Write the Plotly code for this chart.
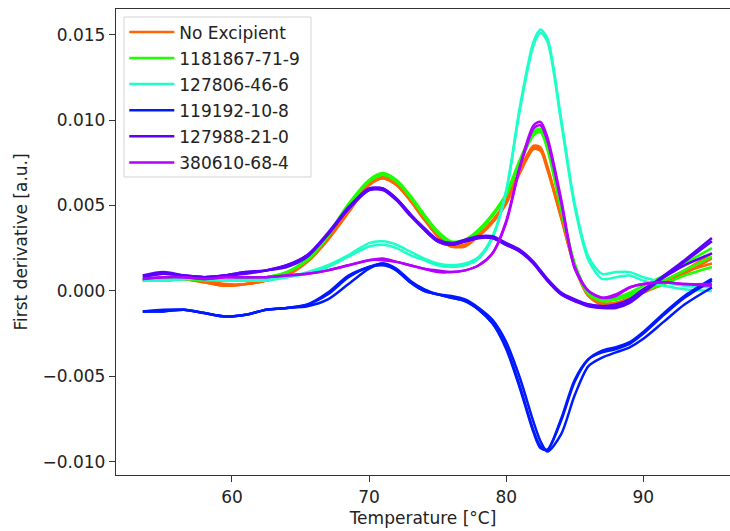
import plotly.graph_objects as go

# Temperature grid (°C)
temperature = [53.5, 55, 56.5, 58, 59.5, 61, 62.5, 64, 65.5, 67, 68.5, 70, 71, 72, 73, 74, 75, 76,
               77, 78, 79, 80, 81, 82, 82.5, 83, 84, 85, 86, 87, 88, 89, 90, 91.5, 93, 95]

# Series labels and colours
series_names = ["No Excipient", "1181867-71-9", "127806-46-6", "119192-10-8", "127988-21-0", "380610-68-4"]
series_colors = ["#ff6400", "#1eff00", "#1effc8", "#0019ff", "#5a00ff", "#b400ff"]

# First-derivative replicates per series
no_excipient = [
    [0.0006, 0.0007, 0.0007, 0.0005, 0.0003, 0.0004, 0.0006, 0.0009, 0.0017, 0.0030, 0.0046, 0.0062, 0.0066, 0.0062,
     0.0053, 0.0042, 0.0032, 0.0026, 0.0026, 0.0032, 0.0040, 0.0051, 0.0069, 0.0083, 0.0082, 0.0071, 0.0043, 0.0014,
     -0.0003, -0.0008, -0.0008, -0.0005, -0.0001, 0.0004, 0.0010, 0.0019],
    [0.0006, 0.0007, 0.0007, 0.0005, 0.0003, 0.0004, 0.0006, 0.0010, 0.0018, 0.0031, 0.0047, 0.0063, 0.0067, 0.0063,
     0.0054, 0.0043, 0.0033, 0.0027, 0.0027, 0.0033, 0.0041, 0.0053, 0.0071, 0.0085, 0.0084, 0.0073, 0.0044, 0.0015,
     -0.0002, -0.0007, -0.0007, -0.0004, 0.0000, 0.0006, 0.0012, 0.0022],
    [0.0007, 0.0007, 0.0008, 0.0006, 0.0004, 0.0004, 0.0006, 0.0010, 0.0017, 0.0030, 0.0046, 0.0062, 0.0066, 0.0062,
     0.0053, 0.0042, 0.0032, 0.0026, 0.0027, 0.0033, 0.0041, 0.0052, 0.0070, 0.0084, 0.0083, 0.0072, 0.0043, 0.0014,
     -0.0003, -0.0008, -0.0007, -0.0005, -0.0001, 0.0005, 0.0011, 0.0016],
]
cas_1181867 = [
    [0.0007, 0.0006, 0.0007, 0.0007, 0.0006, 0.0007, 0.0008, 0.0011, 0.0018, 0.0032, 0.0050, 0.0064, 0.0068, 0.0064,
     0.0055, 0.0044, 0.0034, 0.0028, 0.0029, 0.0035, 0.0044, 0.0056, 0.0075, 0.0091, 0.0093, 0.0083, 0.0048, 0.0015,
     -0.0001, -0.0005, -0.0005, -0.0003, 0.0000, 0.0004, 0.0009, 0.0014],
    [0.0007, 0.0007, 0.0007, 0.0007, 0.0006, 0.0007, 0.0008, 0.0011, 0.0019, 0.0033, 0.0051, 0.0065, 0.0069, 0.0065,
     0.0056, 0.0045, 0.0035, 0.0029, 0.0030, 0.0036, 0.0045, 0.0057, 0.0077, 0.0093, 0.0095, 0.0085, 0.0049, 0.0016,
     -0.0001, -0.0005, -0.0004, -0.0001, 0.0003, 0.0009, 0.0016, 0.0025],
    [0.0006, 0.0006, 0.0007, 0.0006, 0.0006, 0.0007, 0.0008, 0.0011, 0.0018, 0.0032, 0.0050, 0.0064, 0.0068, 0.0064,
     0.0055, 0.0044, 0.0034, 0.0028, 0.0029, 0.0035, 0.0044, 0.0056, 0.0076, 0.0092, 0.0094, 0.0084, 0.0048, 0.0015,
     -0.0002, -0.0006, -0.0005, -0.0002, 0.0001, 0.0006, 0.0012, 0.0020],
]
cas_127806 = [
    [0.0006, 0.0006, 0.0007, 0.0007, 0.0006, 0.0006, 0.0006, 0.0008, 0.0010, 0.0014, 0.0020, 0.0026, 0.0027, 0.0025,
     0.0021, 0.0018, 0.0015, 0.0014, 0.0015, 0.0019, 0.0031, 0.0058, 0.0106, 0.0144, 0.0151, 0.0146, 0.0099, 0.0049,
     0.0018, 0.0007, 0.0008, 0.0009, 0.0006, 0.0003, 0.0001, 0.0000],
    [0.0007, 0.0006, 0.0007, 0.0007, 0.0006, 0.0006, 0.0007, 0.0008, 0.0011, 0.0015, 0.0021, 0.0028, 0.0029, 0.0027,
     0.0023, 0.0019, 0.0016, 0.0015, 0.0016, 0.0020, 0.0032, 0.0059, 0.0108, 0.0146, 0.0153, 0.0148, 0.0101, 0.0051,
     0.0020, 0.0010, 0.0011, 0.0011, 0.0008, 0.0005, 0.0003, 0.0002],
]
cas_119192 = [
    [-0.0012, -0.0012, -0.0011, -0.0013, -0.0015, -0.0014, -0.0011, -0.0010, -0.0008, -0.0001, 0.0009, 0.0014,
     0.0016, 0.0012, 0.0005, 0.0000, -0.0002, -0.0004, -0.0006, -0.0011, -0.0019, -0.0033, -0.0056, -0.0082,
     -0.0091, -0.0093, -0.0076, -0.0053, -0.0040, -0.0036, -0.0034, -0.0031, -0.0025, -0.0014, -0.0004, 0.0006],
    [-0.0012, -0.0011, -0.0011, -0.0013, -0.0015, -0.0014, -0.0011, -0.0010, -0.0009, -0.0005, 0.0004, 0.0013,
     0.0016, 0.0013, 0.0006, 0.0001, -0.0002, -0.0003, -0.0005, -0.0010, -0.0017, -0.0030, -0.0051, -0.0077,
     -0.0088, -0.0094, -0.0084, -0.0061, -0.0044, -0.0039, -0.0036, -0.0033, -0.0028, -0.0018, -0.0008, 0.0002],
    [-0.0012, -0.0012, -0.0011, -0.0013, -0.0015, -0.0014, -0.0011, -0.0010, -0.0008, -0.0002, 0.0008, 0.0014,
     0.0015, 0.0012, 0.0005, 0.0000, -0.0002, -0.0004, -0.0006, -0.0011, -0.0019, -0.0034, -0.0057, -0.0083,
     -0.0092, -0.0093, -0.0075, -0.0052, -0.0040, -0.0035, -0.0033, -0.0030, -0.0024, -0.0013, -0.0003, 0.0007],
]
cas_127988 = [
    [0.0009, 0.0011, 0.0009, 0.0008, 0.0009, 0.0011, 0.0012, 0.0014, 0.0020, 0.0033, 0.0048, 0.0059, 0.0059, 0.0053,
     0.0044, 0.0036, 0.0029, 0.0027, 0.0029, 0.0031, 0.0031, 0.0027, 0.0023, 0.0016, 0.0011, 0.0006, -0.0002, -0.0006,
     -0.0008, -0.0009, -0.0009, -0.0006, 0.0000, 0.0009, 0.0018, 0.0031],
    [0.0008, 0.0010, 0.0009, 0.0008, 0.0009, 0.0010, 0.0012, 0.0015, 0.0021, 0.0034, 0.0049, 0.0060, 0.0060, 0.0054,
     0.0045, 0.0037, 0.0030, 0.0028, 0.0030, 0.0032, 0.0032, 0.0028, 0.0024, 0.0017, 0.0012, 0.0007, -0.0001, -0.0005,
     -0.0008, -0.0009, -0.0008, -0.0005, 0.0001, 0.0008, 0.0015, 0.0022],
    [0.0009, 0.0010, 0.0009, 0.0008, 0.0009, 0.0011, 0.0012, 0.0015, 0.0021, 0.0033, 0.0048, 0.0059, 0.0060, 0.0054,
     0.0045, 0.0036, 0.0029, 0.0027, 0.0029, 0.0031, 0.0031, 0.0027, 0.0023, 0.0016, 0.0011, 0.0006, -0.0002, -0.0006,
     -0.0009, -0.0010, -0.0010, -0.0007, -0.0001, 0.0008, 0.0017, 0.0029],
]
cas_380610 = [
    [0.0007, 0.0008, 0.0008, 0.0007, 0.0008, 0.0008, 0.0008, 0.0009, 0.0010, 0.0012, 0.0015, 0.0018, 0.0018, 0.0017,
     0.0015, 0.0013, 0.0011, 0.0011, 0.0012, 0.0015, 0.0022, 0.0040, 0.0072, 0.0095, 0.0097, 0.0088, 0.0052, 0.0013,
     0.0000, -0.0004, -0.0003, 0.0002, 0.0004, 0.0005, 0.0004, 0.0003],
    [0.0007, 0.0008, 0.0008, 0.0007, 0.0008, 0.0008, 0.0008, 0.0009, 0.0010, 0.0012, 0.0015, 0.0018, 0.0019, 0.0017,
     0.0015, 0.0013, 0.0012, 0.0011, 0.0012, 0.0015, 0.0022, 0.0041, 0.0073, 0.0097, 0.0099, 0.0090, 0.0054, 0.0014,
     0.0000, -0.0004, -0.0002, 0.0002, 0.0004, 0.0005, 0.0004, 0.0004],
]

all_series = [no_excipient, cas_1181867, cas_127806, cas_119192, cas_127988, cas_380610]

FONT = "DejaVu Sans"
FS = 17

fig = go.Figure()
for name, color, reps in zip(series_names, series_colors, all_series):
    for i, rep in enumerate(reps):
        fig.add_trace(go.Scatter(
            x=temperature, y=rep, mode="lines", name=name,
            line=dict(color=color, width=2.5, shape="spline", smoothing=0.8),
            legendgroup=name, showlegend=(i == 0),
        ))

# legend frame (drawn as a paper-anchored rectangle behind the legend entries)
fig.add_shape(type="rect", xref="paper", yref="paper",
              x0=0.0130, x1=0.3176, y0=0.6395, y1=0.9828,
              line=dict(color="#d4d4d4", width=1), fillcolor="rgba(255,255,255,0.8)",
              layer="above")

fig.update_layout(
    width=730, height=531,
    margin=dict(l=116, r=0, t=9, b=56),
    paper_bgcolor="white", plot_bgcolor="white",
    font=dict(family=FONT, size=FS, color="#222"),
    showlegend=True,
    legend=dict(
        x=0.0135, y=0.9885, xanchor="left", yanchor="top",
        bgcolor="rgba(0,0,0,0)", borderwidth=0,
        font=dict(family=FONT, size=FS, color="#222"),
        tracegroupgap=1, itemwidth=45,
    ),
    xaxis=dict(
        range=[51.545, 96.32], tickvals=[60, 70, 80, 90], ticktext=["60", "70", "80", "90"],
        showgrid=False, zeroline=False, showline=True, linecolor="#333", linewidth=1.3,
        mirror=True, ticks="outside", ticklen=6, tickwidth=1.3, tickcolor="#333",
        title=dict(text="Temperature [°C]", standoff=6, font=dict(family=FONT, size=FS)),
    ),
    yaxis=dict(
        range=[-0.010779, 0.016505],
        tickvals=[-0.010, -0.005, 0.0, 0.005, 0.010, 0.015],
        ticktext=["\u22120.010", "\u22120.005", "0.000", "0.005", "0.010", "0.015"],
        showgrid=False, zeroline=False, showline=True, linecolor="#333", linewidth=1.3,
        ticks="outside", ticklen=6, tickwidth=1.3, tickcolor="#333",
        title=dict(text="First derivative [a.u.]", standoff=10, font=dict(family=FONT, size=FS)),
    ),
)

fig.write_html("out.html")
